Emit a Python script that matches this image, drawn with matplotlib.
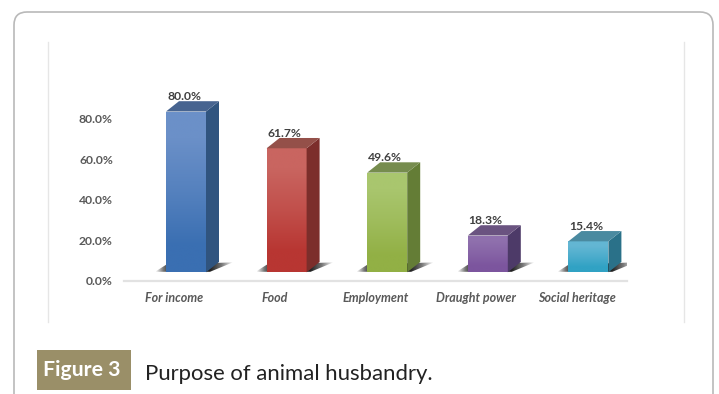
import numpy as np
import matplotlib
matplotlib.use('Agg')
import matplotlib.pyplot as plt
from matplotlib.patches import FancyBboxPatch, Polygon, Rectangle
from matplotlib.colors import to_rgb

W, H = 719, 394

categories = ['For income', 'Food', 'Employment', 'Draught power', 'Social heritage']
values = [80.0, 61.7, 49.6, 18.3, 15.4]
yticks = [0, 20, 40, 60, 80]

# light top, dark bottom of the front face, then top and side colours
front_top = ['#6b90c8', '#c96560', '#a9c66e', '#8f70ad', '#63b6d3']
front_bot = ['#3a6fb2', '#b83632', '#92b045', '#7c559e', '#31a2c4']
top_col = ['#476490', '#945049', '#768c4e', '#6a5380', '#4a8aa0']
side_col = ['#30547f', '#7c2e2b', '#647d36', '#4d3a68', '#2a7189']

plt.rcParams['font.family'] = ['Lato', 'DejaVu Sans']

fig = plt.figure(figsize=(W / 100, H / 100), dpi=100)

# page furniture, drawn in pixel coordinates
bg = fig.add_axes([0, 0, 1, 1])
bg.set_xlim(0, W)
bg.set_ylim(H, 0)
bg.axis('off')
bg.add_patch(FancyBboxPatch((14, 12), 699, 460, boxstyle='round,pad=0,rounding_size=13',
                            fc='white', ec='#b9b9b9', lw=1.2))
bg.plot([47.5, 47.5], [42, 322], color='#e6e6e6', lw=1)
bg.plot([684, 684], [42, 322], color='#e6e6e6', lw=1)
bg.add_patch(Rectangle((37, 350), 94, 40, fc='#9a8f68', ec='none'))
bg.text(81.5, 369.5, 'Figure 3', color='white', fontsize=15.3, fontweight='bold', ha='center', va='center')
bg.text(145, 373.5, 'Purpose of animal husbandry.', color='#222222', fontsize=15.9, ha='left', va='center')

# chart axes: 0 sits at y=280.5 px, 100 sits 202 px above
ax = fig.add_axes([124 / W, (H - 280.5) / H, 503 / W, 202 / H])
ax.patch.set_alpha(0)
ax.set_zorder(2)
for s in ['top', 'right', 'left']:
    ax.spines[s].set_visible(False)
ax.spines['bottom'].set_color('#e2e2e2')
ax.spines['bottom'].set_linewidth(1.6)
ax.set_yticks(yticks)
ax.set_yticklabels([f'{v:.1f}%' for v in yticks], fontsize=8.7, color='#595959', fontweight='bold')
ax.set_xticks(range(len(categories)))
ax.set_xticklabels(categories, fontsize=9, color='#595959', style='italic', fontweight='bold')
ax.tick_params(length=0)
ax.tick_params(axis='y', pad=8)
ax.tick_params(axis='x', pad=8)

ux = 100.6  # px per category
uy = 2.02  # px per percent
bw = 40 / ux
shift = 11.7 / ux  # front face sits right of the category centre
lift = 8.2 / uy  # and above the axis line
dx = 13 / ux
dy = 10.3 / uy


def gradient(poly, img, extent, z):
    ax.add_patch(poly)
    im = ax.imshow(img, extent=extent, aspect='auto', zorder=z, interpolation='bilinear')
    im.set_clip_path(poly)


for i, v in enumerate(values):
    x0 = i + shift - bw / 2
    x1 = x0 + bw
    y0 = lift
    y1 = lift + v * 2.01 / uy

    # floor shadow, fades out at both ends
    sx0 = x0 - 11 / ux
    sx1 = x1 + 27 / ux
    sy0 = y0 + 0.5 / uy
    sy1 = y0 + 10 / uy
    alpha = np.interp(np.linspace(0, 1, 80), [0, 0.1, 0.2, 0.7, 0.85, 1], [0, 0.6, 1, 1, 0.6, 0])
    img = np.zeros((1, 80, 4))
    img[0, :, :3] = 0.12
    img[0, :, 3] = alpha
    shadow = Polygon([(sx0, sy0), (sx0 + 11 / ux, sy0 + 7 / uy), (sx1, sy1), (x1 + 4 / ux, sy0)],
                     fc='none', ec='none', zorder=1)
    gradient(shadow, img, (sx0, sx1, sy0, sy1), 1)

    # front face
    c0 = np.array(to_rgb(front_top[i]))
    c1 = np.array(to_rgb(front_bot[i]))
    t = np.array([0, 0.45, 1.0])[:, None]
    img = (c0 * (1 - t) + c1 * t)[:, None, :]
    front = Polygon([(x0, y0), (x1, y0), (x1, y1), (x0, y1)], fc='none', ec='none', zorder=3)
    gradient(front, img, (x0, x1, y0, y1), 3)

    ax.add_patch(Polygon([(x1, y0), (x1 + dx, y0 + dy), (x1 + dx, y1 + dy), (x1, y1)],
                         fc=side_col[i], ec='none', zorder=3))
    ax.add_patch(Polygon([(x0, y1), (x1, y1), (x1 + dx, y1 + dy), (x0 + dx, y1 + dy)],
                         fc=top_col[i], ec='none', zorder=3))

    ax.text(i + shift - 2 / ux, y1 + dy + 4.5 / uy, f'{v:.1f}%', ha='center', va='center', fontsize=8.7,
            color='#404040', fontweight='bold', zorder=4)

ax.set_xlim(-0.5, 4.5)
ax.set_ylim(0, 100)

fig.savefig('out.png', dpi=100)
